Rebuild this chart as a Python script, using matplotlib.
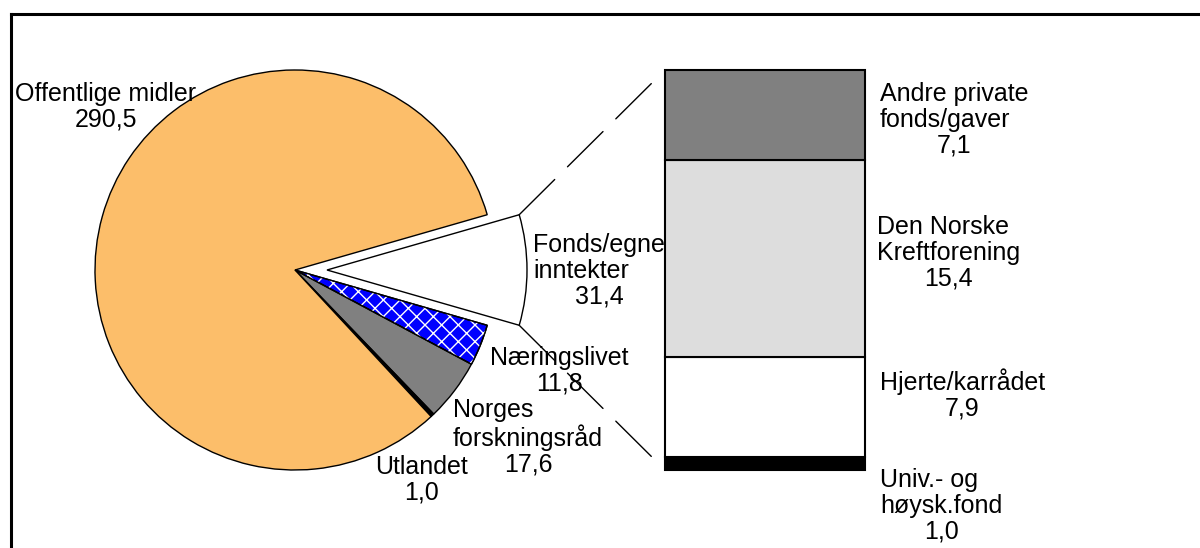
import matplotlib
matplotlib.use('Agg')
import numpy as np
import matplotlib.pyplot as plt
from matplotlib.patches import Wedge, ConnectionPatch
from matplotlib.lines import Line2D

# pie: sources of funding, clockwise from the exploded slice
pie_labels = ['Fonds/egne\ninntekter', 'Næringslivet', 'Norges\nforskningsråd', 'Utlandet', 'Offentlige midler']
pie_values = [31.4, 11.8, 17.6, 1.0, 290.5]
pie_colors = ['white', '#0000FF', '#808080', 'black', '#FCBE6A']

# bar: split of Fonds/egne inntekter, bottom -> top
bar_labels = ['Univ.- og\nhøysk.fond', 'Hjerte/karrådet', 'Den Norske\nKreftforening', 'Andre private\nfonds/gaver']
bar_values = [1.0, 7.9, 15.4, 7.1]
bar_colors = ['black', 'white', '#DDDDDD', '#808080']

W, H = 1200, 548
plt.rcParams['font.family'] = ['Liberation Sans', 'DejaVu Sans']
FS = 18

fig = plt.figure(figsize=(W / 100, H / 100), dpi=100)


def fpos(x, y):
    return x / W, 1 - y / H


def fmt(v):
    return f'{v:.1f}'.replace('.', ',')


# pie, centre (295, 270) px, radius 200 px
ax_pie = fig.add_axes([95 / W, 1 - 470 / H, 400 / W, 400 / H])
total = sum(pie_values)
wedges, _ = ax_pie.pie(pie_values, colors=pie_colors, explode=[0.16, 0, 0, 0, 0],
                       startangle=pie_values[0] / total * 180, counterclock=False,
                       wedgeprops=dict(edgecolor='black', linewidth=1), frame=False)
ax_pie.set_xlim(-1, 1)
ax_pie.set_ylim(-1, 1)
ax_pie.axis('off')
for w in wedges:
    w.set_clip_on(False)

# white cross hatch on Næringslivet
w = wedges[1]
ax_pie.add_patch(Wedge(w.center, w.r, w.theta1, w.theta2, facecolor='none',
                       edgecolor='white', hatch='xx', linewidth=0, clip_on=False))
ax_pie.add_patch(Wedge(w.center, w.r, w.theta1, w.theta2, fill=False,
                       edgecolor='black', linewidth=1, clip_on=False))

# stacked bar
ax_bar = fig.add_axes([665 / W, 1 - 470 / H, 200 / W, 400 / H])
bottom = 0
for v, c in zip(bar_values, bar_colors):
    ax_bar.bar(0, v, bottom=bottom, width=1, color=c, edgecolor='black',
               linewidth=1.5, clip_on=False)
    bottom += v
ax_bar.set_xlim(-0.5, 0.5)
ax_bar.set_ylim(0, sum(bar_values))
ax_bar.axis('off')

# dashed lines from the exploded slice to the bar
fw = wedges[0]
for th, yb in [(fw.theta2, sum(bar_values)), (fw.theta1, 0)]:
    xa = fw.center[0] + fw.r * np.cos(np.radians(th))
    ya = fw.center[1] + fw.r * np.sin(np.radians(th))
    con = ConnectionPatch(xyA=(xa, ya), coordsA=ax_pie.transData,
                          xyB=(-0.5, yb), coordsB=ax_bar.transData,
                          color='black', linewidth=1, linestyle=(0, (36, 13)),
                          shrinkB=5, zorder=4)
    fig.add_artist(con)


def label(name, value, x, y):
    t = fig.text(*fpos(x, y), name, ha='left', va='top', fontsize=FS, linespacing=1.1)
    ax_pie.annotate(fmt(value), xy=(0.5, 0), xycoords=t, xytext=(0, -1),
                    textcoords='offset points', ha='center', va='top',
                    fontsize=FS, annotation_clip=False)


pie_pos = [(533, 233), (490, 346), (453, 398), (375, 455), (15, 82)]
for name, v, (x, y) in zip(pie_labels, pie_values, pie_pos):
    label(name, v, x, y)

bar_pos = [(880, 468), (880, 368), (877, 215), (880, 82)]
for name, v, (x, y) in zip(bar_labels, bar_values, bar_pos):
    label(name, v, x, y)

# frame (top and left edges)
fig.add_artist(Line2D([10.5 / W, 1], [1 - 13.5 / H] * 2, color='black', lw=2.2,
                      transform=fig.transFigure))
fig.add_artist(Line2D([10.5 / W] * 2, [0, 1 - 13.5 / H], color='black', lw=2.2,
                      transform=fig.transFigure))

fig.savefig('out.png', dpi=100)
